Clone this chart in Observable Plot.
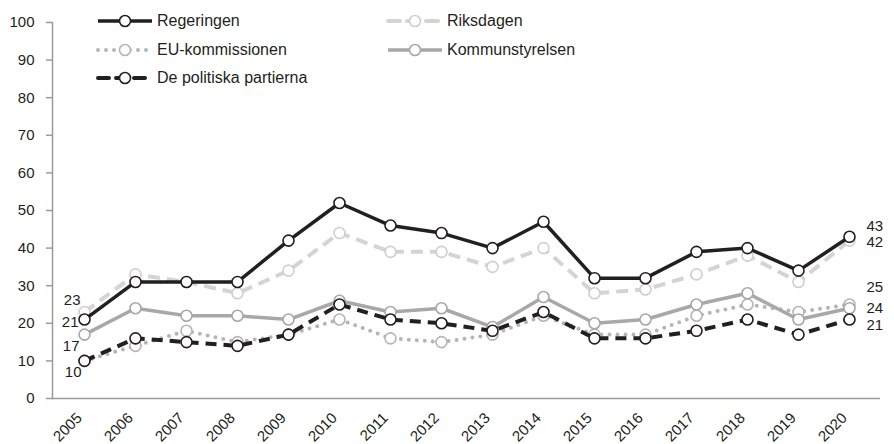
<!DOCTYPE html>
<html>
<head>
<meta charset="utf-8">
<script src="https://cdn.jsdelivr.net/npm/d3@7"></script>
<script src="https://cdn.jsdelivr.net/npm/@observablehq/plot@0.6"></script>
<style>
  html, body { margin: 0; padding: 0; background: #fff; }
  #wrap { position: relative; width: 894px; height: 444px; font-family: "Liberation Sans", Arial, sans-serif; }
  #legend { position: absolute; left: 0; top: 0; width: 894px; height: 100px; pointer-events: none; }
  .item { position: absolute; display: flex; align-items: center; font-size: 16px; color: #231f20; white-space: nowrap; }
  .item svg { display: block; margin-right: 3px; }
</style>
</head>
<body>
<div id="wrap"><div id="legend"></div></div>
<script>
// ---- data ----
const years = ["2005","2006","2007","2008","2009","2010","2011","2012","2013","2014","2015","2016","2017","2018","2019","2020"];
const seriesNames = ["Regeringen","Riksdagen","EU-kommissionen","Kommunstyrelsen","De politiska partierna"];
const regeringen     = [21, 31, 31, 31, 42, 52, 46, 44, 40, 47, 32, 32, 39, 40, 34, 43];
const riksdagen      = [23, 33, 31, 28, 34, 44, 39, 39, 35, 40, 28, 29, 33, 38, 31, 42];
const euKommissionen = [10, 14, 18, 15, 17, 21, 16, 15, 17, 22, 17, 17, 22, 25, 23, 25];
const kommunstyrelsen= [17, 24, 22, 22, 21, 26, 23, 24, 19, 27, 20, 21, 25, 28, 21, 24];
const partierna      = [10, 16, 15, 14, 17, 25, 21, 20, 18, 23, 16, 16, 18, 21, 17, 21];
const yTicks = [0,10,20,30,40,50,60,70,80,90,100];

const valuesByName = {
  "Regeringen": regeringen,
  "Riksdagen": riksdagen,
  "EU-kommissionen": euKommissionen,
  "Kommunstyrelsen": kommunstyrelsen,
  "De politiska partierna": partierna
};

// ---- styles ----
const styles = {
  "Regeringen":            {stroke: "#231f20", width: 3.5, dash: null, cap: "butt", marker: "#231f20"},
  "Riksdagen":             {stroke: "#d4d4d4", width: 4, dash: "12,7", cap: "butt", marker: "#cfcfcf"},
  "EU-kommissionen":       {stroke: "#b5b5b5", width: 4, dash: "0,8", cap: "round", marker: "#b5b5b5"},
  "Kommunstyrelsen":       {stroke: "#a8a8a8", width: 3.5, dash: null, cap: "butt", marker: "#a8a8a8"},
  "De politiska partierna":{stroke: "#231f20", width: 4, dash: "11,7", cap: "butt", marker: "#231f20"}
};
// label offsets (first / last point)
const labelOffsets = {
  "Regeringen":            {first: {dx: -6, dy: 3},  last: {dx: 17, dy: -11}},
  "Riksdagen":             {first: {dx: -4, dy: -12}, last: {dx: 17, dy: 2}},
  "EU-kommissionen":       {first: null,             last: {dx: 17, dy: -17}},
  "Kommunstyrelsen":       {first: {dx: -5, dy: 12}, last: {dx: 17, dy: 0}},
  "De politiska partierna":{first: {dx: -3, dy: 11}, last: {dx: 17, dy: 6}}
};
const drawOrder = ["Riksdagen","EU-kommissionen","Kommunstyrelsen","De politiska partierna","Regeringen"];

const rows = name => years.map((y, i) => ({year: y, value: valuesByName[name][i], name}));

const marks = [];
for (const name of drawOrder) {
  const s = styles[name];
  const d = rows(name);
  marks.push(Plot.line(d, {x: "year", y: "value", stroke: s.stroke, strokeWidth: s.width,
    strokeDasharray: s.dash, strokeLinecap: s.cap, strokeLinejoin: "round"}));
  marks.push(Plot.dot(d, {x: "year", y: "value", r: 5.5, fill: "#fff", stroke: s.marker, strokeWidth: 1.6}));
}
const textStyle = {fontSize: 15, fill: "#231f20", fontFamily: "Liberation Sans, Arial, sans-serif"};
for (const name of seriesNames) {
  const o = labelOffsets[name];
  const d = rows(name);
  if (o.first) marks.push(Plot.text([d[0]], {x: "year", y: "value", text: r => String(r.value),
    dx: o.first.dx, dy: o.first.dy, textAnchor: "end", ...textStyle}));
  if (o.last) marks.push(Plot.text([d[d.length - 1]], {x: "year", y: "value", text: r => String(r.value),
    dx: o.last.dx, dy: o.last.dy, textAnchor: "start", ...textStyle}));
}

const chart = Plot.plot({
  width: 894,
  height: 444,
  marginLeft: 52,
  marginRight: 14,
  marginTop: 22,
  marginBottom: 46,
  style: {fontFamily: "Liberation Sans, Arial, sans-serif", fontSize: "15px", color: "#231f20", background: "#fff"},
  x: {type: "point", domain: years, padding: 0.5, label: null},
  y: {domain: [0, 100], label: null},
  marks: [
    Plot.axisY({ticks: yTicks, tickSize: 6, tickPadding: 12, stroke: "#9a9a9a", strokeWidth: 1.5, fontSize: 15, label: null}),
    Plot.axisX({tickSize: 0, tickPadding: 17, tickRotate: -45, dx: -5, fontSize: 15, label: null}),
    Plot.frame({anchor: "left", stroke: "#9a9a9a", strokeWidth: 1.5}),
    Plot.ruleY([0], {stroke: "#9a9a9a", strokeWidth: 1.5}),
    ...marks
  ]
});
document.getElementById("wrap").prepend(chart);

// ---- legend (HTML overlay) ----
const legendLayout = [
  {name: "Regeringen", left: 96, top: 10},
  {name: "Riksdagen", left: 386, top: 10},
  {name: "EU-kommissionen", left: 96, top: 39},
  {name: "Kommunstyrelsen", left: 386, top: 39},
  {name: "De politiska partierna", left: 96, top: 67}
];
const legend = d3.select("#legend");
for (const L of legendLayout) {
  const s = styles[L.name];
  const item = legend.append("div").attr("class", "item").style("left", L.left + "px").style("top", L.top + "px");
  const sw = item.append("svg").attr("width", 58).attr("height", 22);
  sw.append("line").attr("x1", 2).attr("x2", 56).attr("y1", 11).attr("y2", 11)
    .attr("stroke", s.stroke).attr("stroke-width", s.width)
    .attr("stroke-dasharray", s.dash).attr("stroke-linecap", s.dash ? "round" : "butt");
  sw.append("circle").attr("cx", 29).attr("cy", 11).attr("r", 5.5).attr("fill", "#fff")
    .attr("stroke", s.marker).attr("stroke-width", 1.6);
  item.append("span").text(L.name);
}
</script>
</body>
</html>
